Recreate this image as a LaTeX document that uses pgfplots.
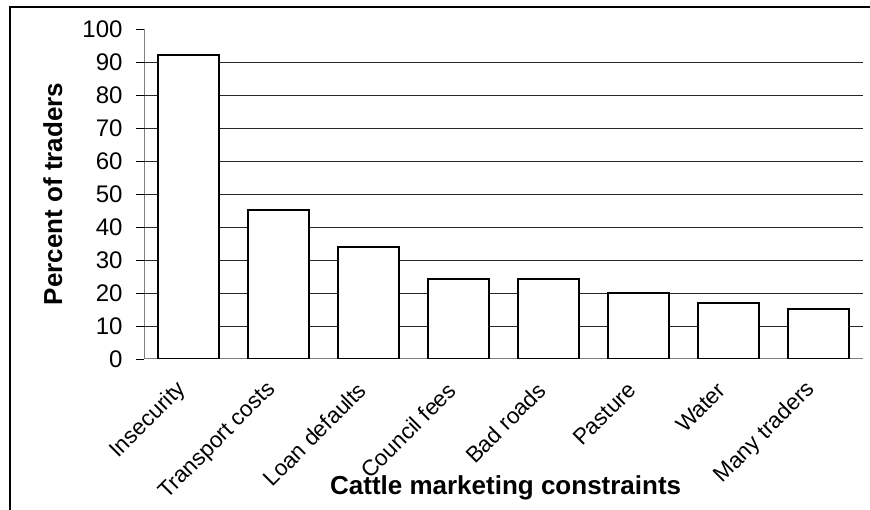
\documentclass[border=0pt]{standalone}
\usepackage{pgfplots}
\pgfplotsset{compat=1.18}
\usepackage{fontspec}
\setmainfont{Liberation Sans}

\begin{document}
\begin{tikzpicture}[x=1pt,y=1pt]
\useasboundingbox (0,0) rectangle (870,510);
% outer frame (left and top edges only are visible)
\draw[line width=2pt] (10,0) -- (10,503) -- (872,503);
\begin{axis}[
  at={(144pt,151pt)}, anchor=south west,
  width=719pt, height=330pt, scale only axis,
  /pgf/number format/assume math mode=true,
  ymin=0, ymax=100,
  xmin=0.5, xmax=8.5,
  axis x line=bottom, axis y line=left,
  axis line style={-, gray, line width=1pt},
  ytick={0,10,...,100},
  extra y ticks={10,20,...,90},
  extra y tick labels={},
  extra y tick style={grid=major, major tick length=0pt},
  grid style={black!85, line width=0.9pt},
  tick align=outside,
  major tick length=8pt,
  tick style={black, line width=0.9pt},
  xtick={1,...,8},
  xticklabels={Insecurity, Transport costs, Loan defaults, Council fees, Bad roads, Pasture, Water, Many traders},
  x tick style={draw=none},
  minor xtick={0.5,1.5,...,8.5},
  minor x tick style={black, line width=0.9pt},
  minor tick length=6pt,
  yticklabel style={font=\fontsize{24}{28}\selectfont, xshift=-10pt},
  xticklabel style={font=\fontsize{22.5}{27}\selectfont,
    xshift=-4pt, yshift=-17pt, rotate=45, anchor=east},
  xlabel={Cattle marketing constraints},
  ylabel={Percent of traders},
  label style={font=\bfseries\fontsize{26}{30}\selectfont},
  xlabel style={at={(axis description cs:0.503,-0.412)}, anchor=base},
  ylabel style={at={(axis description cs:-0.114,0.5)}, anchor=base},
]
\addplot[ybar, bar width=61pt, fill=white, draw=black, line width=2pt]
coordinates {
  (1, 92)
  (2, 45)
  (3, 34)
  (4, 24.3)
  (5, 24.3)
  (6, 20)
  (7, 17)
  (8, 15.2)
};
\end{axis}
\end{tikzpicture}
\end{document}
